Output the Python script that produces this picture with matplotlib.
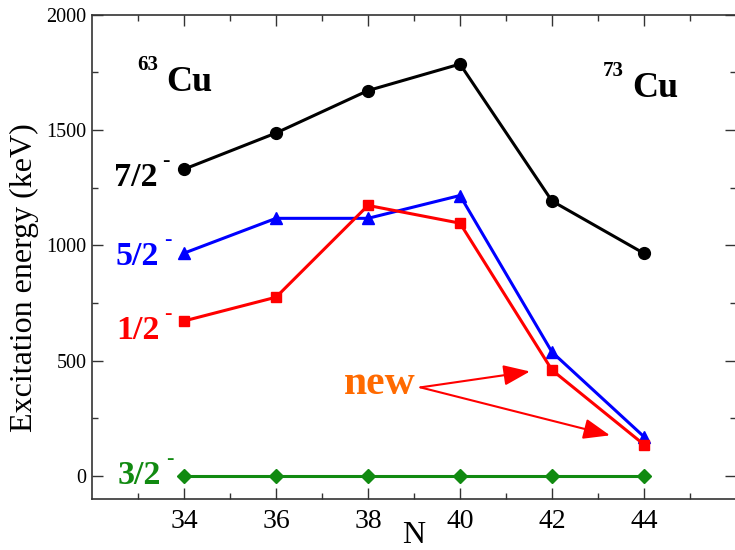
import matplotlib

matplotlib.use("Agg")
import matplotlib.pyplot as plt

# neutron number N and excitation energies (keV) of the low-lying Cu states
n_values = [34, 36, 38, 40, 42, 44]
e_7_2 = [1330, 1487, 1671, 1786, 1192, 965]
e_5_2 = [966, 1117, 1117, 1216, 537, 170]
e_1_2 = [672, 775, 1173, 1096, 459, 136]
e_3_2 = [0, 0, 0, 0, 0, 0]

green = "#118a11"
orange = "#ff6a00"

plt.rcParams["font.family"] = ["Liberation Serif", "DejaVu Serif"]

fig = plt.figure(figsize=(7.35, 5.5), dpi=100)
ax = fig.add_axes([92 / 735, 51 / 550, 644 / 735, 484.3 / 550])

ax.plot(n_values, e_7_2, color="black", lw=2.2, marker="o", ms=8.5)
ax.plot(n_values, e_5_2, color="blue", lw=2.2, marker="^", ms=8.5)
ax.plot(n_values, e_1_2, color="red", lw=2.2, marker="s", ms=7.5)
ax.plot(n_values, e_3_2, color=green, lw=2.2, marker="D", ms=7)

ax.set_xlim(32, 46)
ax.set_ylim(-100, 2000)
ax.set_xticks([34, 36, 38, 40, 42, 44])
ax.set_xticks([33, 35, 37, 39, 41, 43, 45], minor=True)
ax.set_yticks([0, 500, 1000, 1500, 2000])
ax.set_yticks([250, 750, 1250, 1750], minor=True)
ax.tick_params(which="both", direction="in", top=True, right=True, color="#333333", width=1.0)
ax.tick_params(which="major", length=8)
ax.tick_params(which="minor", length=4)
ax.tick_params(axis="x", labelsize=20, pad=7)
ax.tick_params(axis="y", labelsize=14.5, pad=4)
for spine in ax.spines.values():
    spine.set_color("#333333")
    spine.set_linewidth(1.2)

ax.set_xlabel("N", fontsize=23, labelpad=-9)
fig.text(0.033, 0.495, "Excitation energy (keV)", rotation=90, fontsize=23,
         ha="center", va="center")


def state_label(x, y, text, color):
    ax.text(x, y, text, color=color, fontsize=24.5, fontweight="bold",
            ha="left", va="baseline")
    ax.annotate("-", (x, y), xytext=(35, 14.5), textcoords="offset points",
                color=color, fontsize=16, fontweight="bold", ha="left", va="baseline")


state_label(32.47, 1258, "7/2", "black")
state_label(32.52, 916, "5/2", "blue")
state_label(32.52, 592, "1/2", "red")
state_label(32.56, -36, "3/2", green)


def nucleus_label(x, y, mass):
    ax.text(x, y, "Cu", fontsize=26, fontweight="bold", ha="left", va="baseline")
    ax.annotate(mass, (x, y), xytext=(-21, 15), textcoords="offset points",
                fontsize=15, fontweight="bold", ha="left", va="baseline")


nucleus_label(33.61, 1670, "63")
nucleus_label(43.74, 1644, "73")

ax.text(37.47, 354, "new", color=orange, fontsize=30, fontweight="bold",
        ha="left", va="baseline")
for tip in [(41.52, 453), (43.26, 176)]:
    ax.annotate("", xy=tip, xytext=(39.14, 384),
                arrowprops=dict(arrowstyle="-|>,head_length=0.9,head_width=0.35",
                                color="red", lw=1.5, mutation_scale=18,
                                shrinkA=0, shrinkB=0))

fig.savefig("out.png", dpi=100)
